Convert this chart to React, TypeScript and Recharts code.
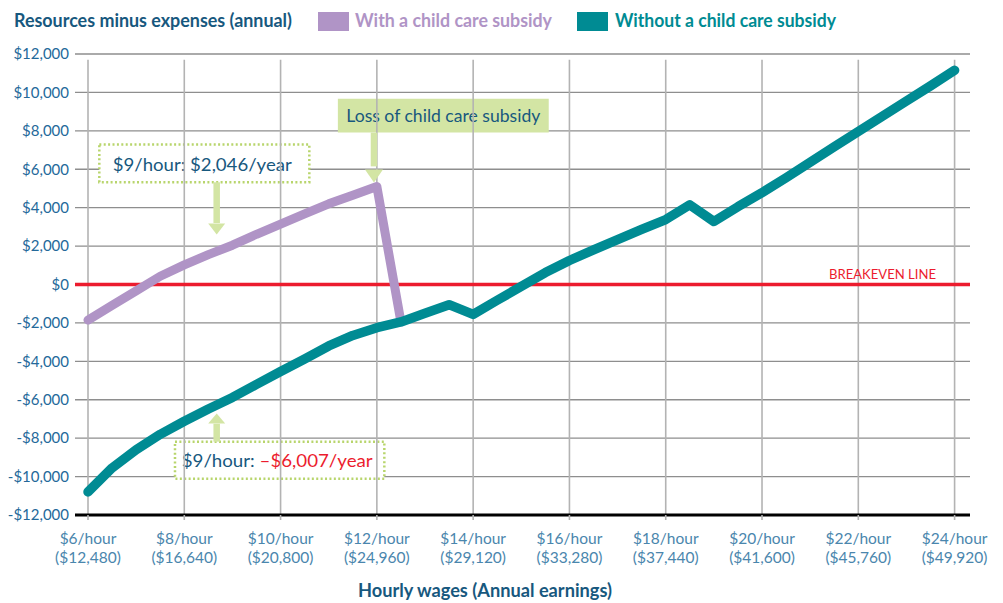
import React from 'react';
import {
  LineChart,
  Line,
  XAxis,
  YAxis,
  CartesianGrid,
  ReferenceLine,
  ReferenceArea,
  ReferenceDot,
} from 'recharts';

// Hourly wage points ($/hour)
const hours = [
  6, 6.5, 7, 7.5, 8, 8.5, 9, 9.5, 10, 10.5, 11, 11.5, 12, 12.5, 13, 13.5, 14,
  14.5, 15, 15.5, 16, 16.5, 17, 17.5, 18, 18.5, 19, 19.5, 20, 20.5, 21, 21.5,
  22, 22.5, 23, 23.5, 24,
];

// Resources minus expenses, with a child care subsidy (ends at $12.50)
const withSubsidy = [
  -1850, -1090, -330, 430, 1020, 1555, 2046, 2615, 3145, 3675, 4200, 4650, 5100,
  -1950,
];

// Resources minus expenses, without a child care subsidy
const withoutSubsidy = [
  -10800, -9550, -8600, -7800, -7120, -6480, -5880, -5200, -4530, -3880, -3200,
  -2650, -2250, -1950, -1500, -1050, -1560, -820, -100, 620, 1250, 1800, 2330,
  2870, 3380, 4150, 3280, 4050, 4780, 5560, 6360, 7170, 7970, 8760, 9550,
  10340, 11150,
];

const xTicks = [6, 8, 10, 12, 14, 16, 18, 20, 22, 24];
const yTicks = [
  -12000, -10000, -8000, -6000, -4000, -2000, 0, 2000, 4000, 6000, 8000, 10000,
  12000,
];

const data = hours.map((h, i) => ({
  h,
  withS: i < withSubsidy.length ? withSubsidy[i] : null,
  without: withoutSubsidy[i],
}));

// Annotation boxes / arrows (data coordinates)
const lossBox = { x1: 11.19, x2: 15.57, y1: 7907, y2: 9676 };
const box2046 = { x1: 6.235, x2: 10.597, y1: 5322, y2: 7283 };
const box6007 = { x1: 7.807, x2: 12.155, y1: -10108, y2: -8183 };
const arrowLoss = { x: 11.94, from: 7907, to: 6150, tip: 5306 };
const arrow2046 = { x: 8.673, from: 5322, to: 3200, tip: 2601 };
const arrow6007 = { x: 8.673, from: -8183, to: -7250, tip: -6711 };

const FONT = 'Lato, "Noto Sans", sans-serif';
const DARK_BLUE = '#17587e';
const TICK_BLUE = '#24699a';
const XTICK_BLUE = '#4a86ad';
const PURPLE = '#b094c6';
const TEAL = '#008b93';
const RED = '#ec1c2e';
const GREEN = '#d3e5a4';
const GREEN_DOT = '#b8d56c';

const fmtY = (v: number) =>
  v < 0
    ? `-$${Math.abs(v).toLocaleString('en-US')}`
    : `$${v.toLocaleString('en-US')}`;

const XTick = (props: any) => {
  const { x, y, payload } = props;
  const h = payload.value as number;
  return (
    <g>
      <text
        x={x}
        y={y + 22}
        textAnchor="middle"
        fill={XTICK_BLUE}
        fontSize={15.5}
        fontFamily={FONT}
      >
        {`$${h}/hour`}
      </text>
      <text
        x={x}
        y={y + 40.5}
        textAnchor="middle"
        fill={XTICK_BLUE}
        fontSize={15.5}
        fontFamily={FONT}
      >
        {`($${(h * 2080).toLocaleString('en-US')})`}
      </text>
    </g>
  );
};

const headDown = (w: number, hgt: number) => (p: any) => {
  const { cx, cy } = p;
  return (
    <polygon
      points={`${cx},${cy} ${cx - w / 2},${cy - hgt} ${cx + w / 2},${cy - hgt}`}
      fill={GREEN}
    />
  );
};
const headUp = (w: number, hgt: number) => (p: any) => {
  const { cx, cy } = p;
  return (
    <polygon
      points={`${cx},${cy} ${cx - w / 2},${cy + hgt} ${cx + w / 2},${cy + hgt}`}
      fill={GREEN}
    />
  );
};

export default function App() {
  return (
    <div
      style={{
        position: 'absolute',
        left: 0,
        top: 0,
        width: 1003,
        height: 603,
        background: '#fff',
        fontFamily: FONT,
      }}
    >
      <LineChart
        width={1003}
        height={603}
        data={data}
        margin={{ top: 54, right: 33, left: 0, bottom: 0 }}
      >
        <CartesianGrid
          vertical={false}
          stroke="#8e8e8e"
          strokeWidth={1.3}
        />
        {xTicks.map((t) => (
          <ReferenceLine
            key={`v${t}`}
            segment={[
              { x: t, y: 11700 },
              { x: t, y: -12000 },
            ]}
            stroke="#b3b3b3"
            strokeWidth={1.6}
          />
        ))}
        <XAxis
          dataKey="h"
          type="number"
          domain={[5.73, 24.32]}
          ticks={xTicks}
          allowDataOverflow
          height={88}
          axisLine={{ stroke: '#000', strokeWidth: 3 }}
          tickLine={{ stroke: '#b3b3b3', strokeWidth: 1.6 }}
          tickSize={5}
          tickMargin={2}
          tick={<XTick />}
          interval={0}
        />
        <YAxis
          type="number"
          domain={[-12000, 12000]}
          ticks={yTicks}
          width={75}
          axisLine={false}
          tickLine={false}
          tickSize={4}
          tickMargin={2}
          interval={0}
          tickFormatter={fmtY}
          tick={{ fill: TICK_BLUE, fontSize: 15, fontFamily: FONT }}
        />
        <ReferenceLine
          y={0}
          stroke={RED}
          strokeWidth={3.5}
          label={(p: any) => {
            const vb = p.viewBox || {};
            return (
              <text
                x={vb.x + vb.width - 34}
                y={vb.y - 6}
                textAnchor="end"
                fill={RED}
                fontSize={13.5}
                fontFamily={FONT}
                textLength={107}
                lengthAdjust="spacingAndGlyphs"
              >
                BREAKEVEN LINE
              </text>
            );
          }}
        />

        {/* Loss of child care subsidy */}
        <ReferenceArea
          {...lossBox}
          fill={GREEN}
          fillOpacity={1}
          stroke="none"
          label={(p: any) => {
            const vb = p.viewBox || {};
            return (
              <text
                x={vb.x + vb.width / 2}
                y={vb.y + vb.height / 2 + 6}
                textAnchor="middle"
                fill={DARK_BLUE}
                fontSize={18}
                fontFamily={FONT}
                textLength={194}
                lengthAdjust="spacingAndGlyphs"
              >
                Loss of child care subsidy
              </text>
            );
          }}
        />
        <ReferenceLine
          segment={[
            { x: arrowLoss.x, y: arrowLoss.from },
            { x: arrowLoss.x, y: arrowLoss.to },
          ]}
          stroke={GREEN}
          strokeWidth={6.5}
        />
        <ReferenceDot
          x={arrowLoss.x}
          y={arrowLoss.tip}
          r={1}
          shape={headDown(18, 13)}
        />

        {/* $9/hour: $2,046/year */}
        <ReferenceArea
          {...box2046}
          fill="#fff"
          fillOpacity={1}
          stroke={GREEN_DOT}
          strokeWidth={2.5}
          strokeDasharray="2 2.4"
          label={(p: any) => {
            const vb = p.viewBox || {};
            return (
              <text
                x={vb.x + 13.4}
                y={vb.y + 26.7}
                fill={DARK_BLUE}
                fontSize={18}
                fontFamily={FONT}
                textLength={179}
                lengthAdjust="spacingAndGlyphs"
              >
                $9/hour: $2,046/year
              </text>
            );
          }}
        />
        <ReferenceLine
          segment={[
            { x: arrow2046.x, y: arrow2046.from },
            { x: arrow2046.x, y: arrow2046.to },
          ]}
          stroke={GREEN}
          strokeWidth={6.5}
        />
        <ReferenceDot
          x={arrow2046.x}
          y={arrow2046.tip}
          r={1}
          shape={headDown(17, 11)}
        />

        {/* $9/hour: -$6,007/year */}
        <ReferenceArea
          {...box6007}
          fill="#fff"
          fillOpacity={1}
          stroke={GREEN_DOT}
          strokeWidth={2.5}
          strokeDasharray="2 2.4"
          label={(p: any) => {
            const vb = p.viewBox || {};
            return (
              <text
                x={vb.x + 6.7}
                y={vb.y + 25.7}
                fontSize={18}
                fontFamily={FONT}
                textLength={191}
                lengthAdjust="spacingAndGlyphs"
              >
                <tspan fill={DARK_BLUE}>$9/hour: </tspan>
                <tspan fill={RED}>–$6,007/year</tspan>
              </text>
            );
          }}
        />
        <ReferenceLine
          segment={[
            { x: arrow6007.x, y: arrow6007.from },
            { x: arrow6007.x, y: arrow6007.to },
          ]}
          stroke={GREEN}
          strokeWidth={6.5}
        />
        <ReferenceDot
          x={arrow6007.x}
          y={arrow6007.tip}
          r={1}
          shape={headUp(17, 10)}
        />

        <Line
          type="linear"
          dataKey="withS"
          stroke={PURPLE}
          strokeWidth={9}
          strokeLinecap="round"
          strokeLinejoin="round"
          dot={false}
          activeDot={false}
          connectNulls={false}
          isAnimationActive={false}
        />
        <Line
          type="linear"
          dataKey="without"
          stroke={TEAL}
          strokeWidth={9.5}
          strokeLinecap="round"
          strokeLinejoin="round"
          dot={false}
          activeDot={false}
          isAnimationActive={false}
        />
      </LineChart>

      <svg
        width={1003}
        height={603}
        style={{ position: 'absolute', left: 0, top: 0, pointerEvents: 'none' }}
      >
        <text
          x={14}
          y={27}
          fill={DARK_BLUE}
          fontSize={19}
          fontWeight={700}
          fontFamily={FONT}
          textLength={278}
          lengthAdjust="spacingAndGlyphs"
        >
          Resources minus expenses (annual)
        </text>
        <rect x={318} y={12} width={31} height={19} fill={PURPLE} />
        <text
          x={355}
          y={27}
          fill={PURPLE}
          fontSize={19}
          fontWeight={700}
          fontFamily={FONT}
          textLength={197}
          lengthAdjust="spacingAndGlyphs"
        >
          With a child care subsidy
        </text>
        <rect x={577} y={12} width={31} height={19} fill={TEAL} />
        <text
          x={615}
          y={27}
          fill={TEAL}
          fontSize={19}
          fontWeight={700}
          fontFamily={FONT}
          textLength={221}
          lengthAdjust="spacingAndGlyphs"
        >
          Without a child care subsidy
        </text>
        <text
          x={358}
          y={597}
          fill={DARK_BLUE}
          fontSize={19}
          fontWeight={700}
          fontFamily={FONT}
          textLength={254}
          lengthAdjust="spacingAndGlyphs"
        >
          Hourly wages (Annual earnings)
        </text>
      </svg>
    </div>
  );
}
